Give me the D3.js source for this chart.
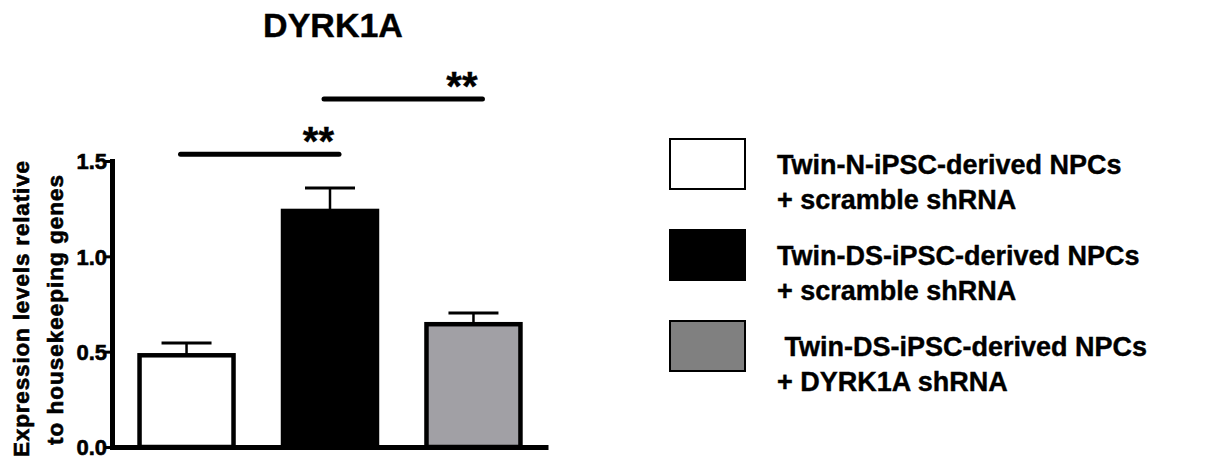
<!DOCTYPE html>
<html lang="en">
<head>
    <meta charset="UTF-8">
    <title>DYRK1A</title>
    <script src="https://d3js.org/d3.v7.min.js"></script>
    <style>
        body {
            margin: 0;
            background-color: white;
        }
        svg text {
            font-family: "Liberation Sans", Arial, sans-serif;
            font-weight: bold;
            fill: black;
            stroke: black;
            stroke-width: 0.4px;
        }
        .legend-label {
            white-space: pre;
        }
    </style>
</head>
<body>
    <svg class="chart" width="1222" height="459"></svg>

    <script>
        // values
        const groups = ["N scramble", "DS scramble", "DS DYRK1A"];
        const means = [0.481, 1.238, 0.644];
        const sems = [0.064, 0.12, 0.059];
        const yTicks = [0.0, 0.5, 1.0, 1.5];
        const legendLabels = [
            ["Twin-N-iPSC-derived NPCs", "+ scramble shRNA"],
            ["Twin-DS-iPSC-derived NPCs", "+ scramble shRNA"],
            [" Twin-DS-iPSC-derived NPCs", "+ DYRK1A shRNA"]
        ];
        const comparisons = [[0, 1], [1, 2]];
        const compHeights = [1.536, 1.825];
        const compLabels = ["**", "**"];

        const barFill = ["#ffffff", "#000000", "#a1a0a5"];
        const legendFill = ["#ffffff", "#000000", "#808080"];

        const svg = d3.select(".chart");

        const x = d3.scaleBand()
            .domain(d3.range(groups.length))
            .range([112, 548])
            .paddingInner(0.331)
            .paddingOuter(0.185)
            .align(0.5);

        const y = d3.scaleLinear().domain([0, 1.5]).range([447, 161]);

        // title
        svg.append("text")
            .attr("x", 333)
            .attr("y", 37)
            .attr("text-anchor", "middle")
            .style("font-size", "34px")
            .text("DYRK1A");

        // y axis label
        const yLab = svg.append("g").attr("transform", "translate(0,309) rotate(-90)");
        yLab.append("text")
            .attr("x", 0).attr("y", 29)
            .attr("text-anchor", "middle")
            .attr("textLength", 296)
            .attr("lengthAdjust", "spacing")
            .style("font-size", "22.5px")
            .style("stroke-width", "0.6px")
            .text("Expression levels relative");
        yLab.append("text")
            .attr("x", -1).attr("y", 63)
            .attr("text-anchor", "middle")
            .attr("textLength", 270)
            .attr("lengthAdjust", "spacing")
            .style("font-size", "22.5px")
            .style("stroke-width", "0.6px")
            .text("to housekeeping genes");

        // bars
        svg.selectAll(".bar")
            .data(means)
            .enter().append("rect")
            .attr("class", "bar")
            .attr("x", (d, i) => x(i) + 1)
            .attr("width", x.bandwidth() - 2)
            .attr("y", d => y(d))
            .attr("height", d => y(0) - y(d))
            .style("fill", (d, i) => barFill[i])
            .style("stroke", "black")
            .style("stroke-width", 4.5);

        // error bars (upper only)
        const err = svg.selectAll(".err")
            .data(means)
            .enter().append("g")
            .attr("class", "err");
        err.append("line")
            .attr("x1", (d, i) => x(i) + x.bandwidth() / 2)
            .attr("x2", (d, i) => x(i) + x.bandwidth() / 2)
            .attr("y1", d => y(d))
            .attr("y2", (d, i) => y(d + sems[i]))
            .style("stroke", "black")
            .style("stroke-width", 2.5);
        err.append("line")
            .attr("x1", (d, i) => x(i) + x.bandwidth() / 2 - 25)
            .attr("x2", (d, i) => x(i) + x.bandwidth() / 2 + 25)
            .attr("y1", (d, i) => y(d + sems[i]))
            .attr("y2", (d, i) => y(d + sems[i]))
            .style("stroke", "black")
            .style("stroke-width", 3);

        // axes
        const yAxis = svg.append("g")
            .attr("transform", "translate(112,0)")
            .call(d3.axisLeft(y).tickValues(yTicks).tickFormat(d3.format(".1f")).tickSize(7).tickSizeOuter(0));
        yAxis.select(".domain").style("stroke-width", 5).style("stroke-linecap", "square");
        yAxis.selectAll(".tick line").style("stroke-width", 3);
        yAxis.selectAll(".tick text")
            .attr("x", -5)
            .attr("dy", "0.36em")
            .style("font-size", "22px")
            .style("font-family", "\"Liberation Sans\", Arial, sans-serif")
            .style("font-weight", "bold")
            .style("stroke-width", "0.6px");

        const xAxis = svg.append("g")
            .attr("transform", `translate(0,${y(0)})`)
            .call(d3.axisBottom(x).tickSize(0).tickSizeOuter(0).tickFormat(""));
        xAxis.select(".domain").style("stroke-width", 5);

        // significance brackets
        const sig = svg.selectAll(".sig")
            .data(comparisons)
            .enter().append("g")
            .attr("class", "sig");
        sig.append("line")
            .attr("x1", d => x(d[0]) + x.bandwidth() / 2 - 6)
            .attr("x2", d => x(d[1]) + x.bandwidth() / 2 + 9)
            .attr("y1", (d, i) => y(compHeights[i]))
            .attr("y2", (d, i) => y(compHeights[i]))
            .style("stroke", "black")
            .style("stroke-width", 5)
            .style("stroke-linecap", "round");
        sig.append("text")
            .attr("x", d => x(d[1]) + x.bandwidth() / 2 + 4)
            .attr("y", (d, i) => y(compHeights[i]) + 1)
            .attr("text-anchor", "end")
            .style("font-size", "40px")
            .text((d, i) => compLabels[i]);

        // legend
        const legend = svg.selectAll(".legend")
            .data(legendLabels)
            .enter().append("g")
            .attr("class", "legend")
            .attr("transform", (d, i) => `translate(0,${i * 91})`);
        legend.append("rect")
            .attr("x", 670)
            .attr("y", 139)
            .attr("width", 75)
            .attr("height", 50)
            .style("fill", (d, i) => legendFill[i])
            .style("stroke", "black")
            .style("stroke-width", 2);
        legend.each(function (lines) {
            d3.select(this).selectAll(".legend-label")
                .data(lines)
                .enter().append("text")
                .attr("class", "legend-label")
                .attr("x", 777)
                .attr("y", (d, j) => 174 + j * 35)
                .style("font-size", "27px")
                .text(d => d);
        });
    </script>
</body>
</html>
